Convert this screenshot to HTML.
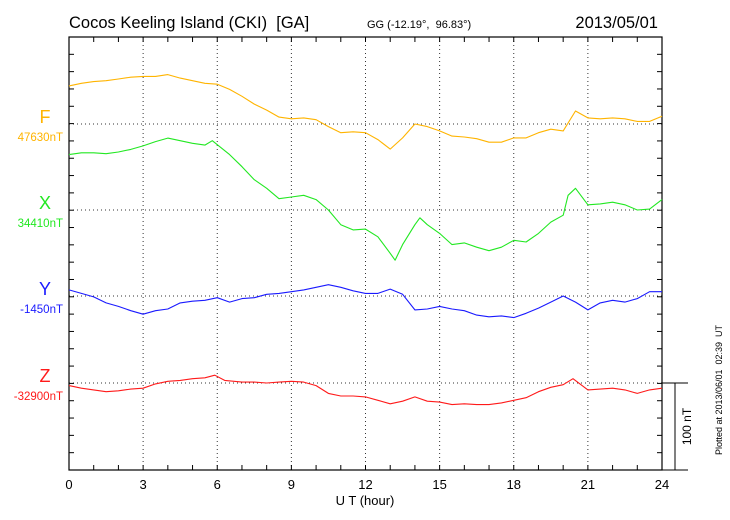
<!DOCTYPE html>
<html><head><meta charset="utf-8"><style>
html,body{margin:0;padding:0;background:#fff}
svg{display:block;font-family:"Liberation Sans",sans-serif}
</style></head><body>
<svg id="c" width="730" height="520" viewBox="0 0 730 520"></svg>
<script>
const hoursF = [0,0.5,1,1.5,2,2.5,3,3.5,4,4.5,5,5.5,6,6.5,7,7.5,8,8.5,9,9.5,10,10.5,11,11.5,12,12.5,13,13.5,14,14.5,15,15.5,16,16.5,17,17.5,18,18.5,19,19.5,20,20.5,21,21.5,22,22.5,23,23.5,24];
const valuesF = [44,47,49,50,52,54,55,55,57,53,50,47,46,40,32,23,16,8,6,7,5,-3,-10,-9,-10,-18,-29,-16,0,-3,-8,-14,-15,-17,-21,-21,-16,-16,-10,-6,-8,15,7,6,7,6,3,3,9];
const hoursX = [0,0.5,1,1.5,2,2.5,3,3.5,4,4.5,5,5.5,5.8,6.5,7,7.5,8,8.5,9,9.5,10,10.5,11,11.5,12,12.5,13,13.2,13.5,14,14.2,14.5,15,15.5,16,16.5,17,17.5,18,18.5,19,19.5,20,20.2,20.5,21,21.5,22,22.5,23,23.5,24];
const valuesX = [64,66,66,65,67,70,74,79,83,80,77,75,80,64,50,35,25,13,15,17,12,0,-17,-23,-22,-31,-50,-58,-40,-17,-9,-17,-27,-40,-38,-43,-47,-43,-35,-37,-27,-14,-6,17,25,6,7,9,6,0,1,12];
const hoursY = hoursF;
const valuesY = [7,3,-1,-8,-12,-17,-21,-17,-15,-8,-6,-5,-2,-7,-3,-2,2,3,5,7,10,13,10,6,3,3,8,2,-16,-15,-12,-15,-17,-22,-24,-23,-25,-20,-14,-7,0,-7,-16,-8,-5,-7,-3,5,5];
const hoursZ = [0,0.5,1,1.5,2,2.5,3,3.5,4,4.5,5,5.5,5.9,6.3,7,7.5,8,8.5,9,9.5,10,10.5,11,11.5,12,12.5,13,13.5,14,14.5,15,15.5,16,16.5,17,17.5,18,18.5,19,19.5,20,20.4,21,21.5,22,22.5,23,23.5,24];
const valuesZ = [-3,-6,-8,-10,-9,-7,-6,-1,2,3,5,6,9,3,1,1,0,1,2,1,-3,-12,-15,-15,-16,-20,-24,-21,-16,-21,-22,-25,-24,-25,-25,-23,-20,-17,-10,-5,-2,5,-8,-7,-6,-8,-12,-8,-6];
const xTicks = ["0","3","6","9","12","15","18","21","24"];
const seriesNames = ["F","X","Y","Z"];
const baseLabels = ["47630nT","34410nT","-1450nT","-32900nT"];

const NS="http://www.w3.org/2000/svg", svg=document.getElementById('c');
const L=69,R=662,T=37,B=470;
const pxPerNT=0.866;
const bases=[124,210,296,383];
const colors=["#ffb400","#22e822","#1a1aff","#ff1a1a"];
function xs(h){return L+(R-L)*h/24;}
function ys(i,v){return bases[i]-v*pxPerNT;}
function el(t,a,txt){const e=document.createElementNS(NS,t);for(const k in a)e.setAttribute(k,a[k]);if(txt!=null)e.textContent=txt;svg.appendChild(e);return e;}

for(let h=3;h<24;h+=3){const g=el('line',{x1:xs(h),x2:xs(h),y1:T,y2:B,stroke:'#333','stroke-width':1,'stroke-dasharray':'1,3'});

}
bases.forEach(b=>{const g=el('line',{x1:L,x2:R,y1:b,y2:b,stroke:'#333','stroke-width':1,'stroke-dasharray':'1,3'});

});
for(let h=0;h<=24;h++){const x=xs(h);
const t1=el('line',{x1:x,x2:x,y1:T,y2:T+5,stroke:'#000'});


const t2=el('line',{x1:x,x2:x,y1:B,y2:B-5,stroke:'#000'});

}
for(let k=1;k<25;k++){const y=T+(B-T)*k/25;
const t1=el('line',{x1:L,x2:L+5,y1:y,y2:y,stroke:'#000'});


const t2=el('line',{x1:R,x2:R-5,y1:y,y2:y,stroke:'#000'});

}
const fr=el('rect',{x:L,y:T,width:R-L,height:B-T,fill:'none',stroke:'#000','stroke-width':1.2});


const sb=el('path',{d:`M${R} ${bases[3]}H688M${R} ${B}H688M675 ${bases[3]}V${B}`,stroke:'#000',fill:'none'});


const sbt=el('text',{x:0,y:0,'font-size':12,'text-anchor':'middle',transform:`translate(691,${(bases[3]+B)/2}) rotate(-90)`},'100 nT');


const H=[hoursF,hoursX,hoursY,hoursZ],V=[valuesF,valuesX,valuesY,valuesZ];
for(let i=0;i<4;i++){
 const d=H[i].map((h,j)=>(j?'L':'M')+xs(h).toFixed(1)+' '+ys(i,V[i][j]).toFixed(1)).join('');
 const p=el('path',{d:d,fill:'none',stroke:colors[i],'stroke-width':1.1,'stroke-linejoin':'round'});
 
 
 const lt=el('text',{x:45,y:bases[i]-1,'font-size':18,'text-anchor':'middle',fill:colors[i]},seriesNames[i]);
 
 
 const bt=el('text',{x:63,y:bases[i]+17,'font-size':11.5,'text-anchor':'end',fill:colors[i]},baseLabels[i]);
 
 
}
xTicks.forEach(s=>{const t=el('text',{x:xs(+s),y:489,'font-size':13,'text-anchor':'middle'},s);

});
const xt=el('text',{x:365,y:505,'font-size':13,'text-anchor':'middle'},'U T (hour)');


const t1=el('text',{x:69,y:28,'font-size':16.5},'Cocos Keeling Island (CKI)  [GA]');


t1.style.whiteSpace='pre';
const t2=el('text',{x:367,y:28,'font-size':11},'GG (-12.19°,  96.83°)');


t2.style.whiteSpace='pre';
const t3=el('text',{x:658,y:28,'font-size':16.5,'text-anchor':'end'},'2013/05/01');


const t4=el('text',{x:0,y:0,'font-size':9,'text-anchor':'middle',transform:'translate(722,390) rotate(-90)'},'Plotted at 2013/06/01  02:39  UT');


t4.style.whiteSpace='pre';
</script>
</body></html>
